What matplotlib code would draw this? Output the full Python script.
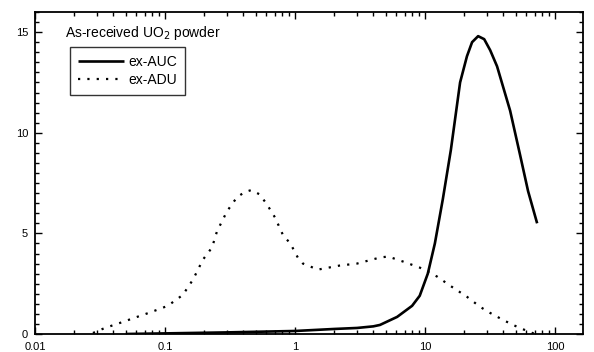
import matplotlib
matplotlib.use("Agg")
import matplotlib.pyplot as plt
from matplotlib.ticker import FixedLocator, LogLocator, MultipleLocator, NullFormatter

plt.rcParams['font.family'] = ['Liberation Sans', 'DejaVu Sans']

# ex-AUC (solid)
auc_x = [0.05, 0.1, 0.3, 1.0, 2.0, 3.0, 4.0, 4.5, 6.1, 7.95, 9.1, 10.5, 11.9, 13.7, 15.8,
         18.6, 21.0, 23.0, 25.6, 28.5, 31.7, 35.8, 45.1, 53.8, 62.0, 72.8]
auc_y = [0.0, 0.03, 0.08, 0.15, 0.25, 0.3, 0.38, 0.45, 0.85, 1.4, 1.9, 3.0, 4.5, 6.7, 9.15,
         12.5, 13.8, 14.5, 14.8, 14.65, 14.1, 13.3, 11.1, 8.9, 7.1, 5.5]

# ex-ADU (dotted)
adu_x = [0.0279, 0.0345, 0.045, 0.061, 0.079, 0.105, 0.137, 0.164, 0.196, 0.23, 0.251,
         0.30, 0.358, 0.41, 0.46, 0.53, 0.6, 0.7, 0.81, 0.92, 1.05, 1.15, 1.5, 2.2, 3.0,
         4.5, 5.2, 6.77, 9.1, 12.4, 15.6, 21.0, 26.5, 31.6, 39.8, 47.5, 56.0, 70.0]
adu_y = [0.05, 0.3, 0.55, 0.85, 1.1, 1.4, 1.94, 2.7, 3.7, 4.3, 5.1,
         6.1, 6.8, 7.05, 7.15, 6.95, 6.5, 5.8, 4.9, 4.5, 3.8, 3.5, 3.2, 3.4, 3.5,
         3.8, 3.85, 3.6, 3.3, 2.85, 2.4, 1.85, 1.35, 1.05, 0.7, 0.45, 0.25, 0.0]

x_ticks = [0.01, 0.1, 1, 10, 100]
x_labels = ["0.01", "0.1", "1", "10", "100"]
y_ticks = [0, 5, 10, 15]
y_labels = ["0", "5", "10", "15"]

fig = plt.figure(figsize=(5.94, 3.52), dpi=100)
ax = fig.add_axes([35/594, 18/352, (583-35)/594, (334-12)/352])

ax.plot(auc_x, auc_y, color='black', lw=1.9, solid_capstyle='butt', label='ex-AUC')
ax.plot(adu_x, adu_y, color='black', lw=1.6, linestyle=(0, (1, 3.2)), label='ex-ADU')

ax.set_xscale('log')
ax.set_xlim(0.01, 164)
ax.set_ylim(0, 16)

ax.xaxis.set_major_locator(FixedLocator(x_ticks))
ax.set_xticklabels(x_labels)
ax.xaxis.set_minor_locator(LogLocator(base=10, subs=range(2, 10), numticks=20))
ax.xaxis.set_minor_formatter(NullFormatter())
ax.yaxis.set_major_locator(FixedLocator(y_ticks))
ax.set_yticklabels(y_labels)
ax.yaxis.set_minor_locator(MultipleLocator(0.5))

ax.tick_params(which='both', direction='in', top=True, right=True, labelsize=8, width=1.0)
ax.tick_params(which='major', length=5)
ax.tick_params(which='minor', length=3)
ax.tick_params(axis='x', pad=6)
ax.tick_params(axis='y', pad=5)
for s in ax.spines.values():
    s.set_linewidth(1.3)

ax.text(0.054, 0.935, "As-received UO$_2$ powder", transform=ax.transAxes,
        fontsize=10, va='center', ha='left')
leg = ax.legend(loc='upper left', bbox_to_anchor=(0.064, 0.891), fontsize=10,
                frameon=True, fancybox=False, handlelength=3.3, handletextpad=0.35,
                borderpad=0.55, labelspacing=0.3, borderaxespad=0)
leg.get_frame().set_edgecolor('black')
leg.get_frame().set_linewidth(1.0)

fig.savefig("out.png", dpi=100)
